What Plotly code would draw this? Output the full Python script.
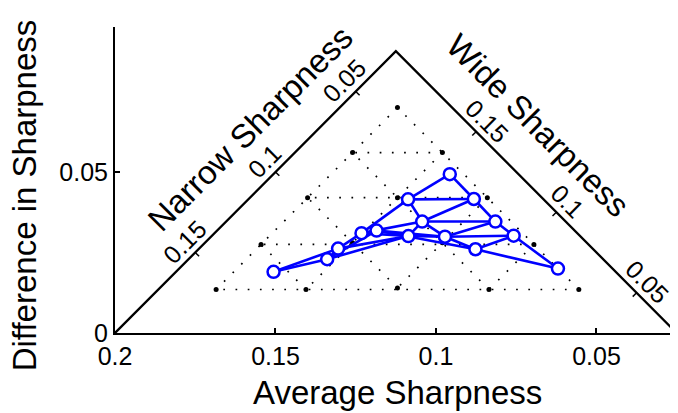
import plotly.graph_objects as go

# sharpness range covered by the triangle (narrow <= wide)
SHARP_MIN, SHARP_MAX = 0.025, 0.2

# stimulus lattice (black dots): narrow / wide sharpness levels
grid_narrow = [0.042, 0.070, 0.098, 0.127, 0.155]
grid_wide = [0.069, 0.097, 0.126, 0.154, 0.182]

# measured points, one per lattice cell (narrow index, wide index)
obs_i = [0, 0, 0, 0, 0, 1, 1, 1, 1, 2, 2, 2, 3, 3, 4]
obs_j = [0, 1, 2, 3, 4, 1, 2, 3, 4, 2, 3, 4, 3, 4, 4]
obs_avg = [0.0620, 0.0758, 0.0815, 0.0882, 0.0957,
           0.0877, 0.0972, 0.1043, 0.1087,
           0.1185, 0.1086, 0.1232,
           0.1339, 0.1305,
           0.1506]
obs_diff = [0.0200, 0.0302, 0.0346, 0.0416, 0.0493,
            0.0260, 0.0299, 0.0346, 0.0415,
            0.0318, 0.0301, 0.0310,
            0.0229, 0.0262,
            0.0190]

x_ticks = [0.2, 0.15, 0.1, 0.05]
y_ticks = [0, 0.05]
narrow_ticks = [0.15, 0.1, 0.05]
wide_ticks = [0.15, 0.1, 0.05]

FONT = "Liberation Sans, Arial, Helvetica, sans-serif"
BLUE = "#0000ff"


def to_xy(n, w):
    """(narrow, wide) -> (average, difference)."""
    return (n + w) / 2, (w - n) / 2


def segs(pairs):
    xs, ys = [], []
    for (x0, y0), (x1, y1) in pairs:
        xs += [x0, x1, None]
        ys += [y0, y1, None]
    return xs, ys


fig = go.Figure()

# dotted lattice
nlev = len(grid_narrow)
lines = []
for k in range(nlev):
    if k < nlev - 1:
        lines.append(((0, k), (nlev - 1 - k, nlev - 1)))      # const difference
        lines.append(((k, k), (k, nlev - 1)))                 # const narrow
    if k > 0:
        lines.append(((0, k), (k, k)))                        # const wide
pairs = [(to_xy(grid_narrow[a[0]], grid_wide[a[1]]),
          to_xy(grid_narrow[b[0]], grid_wide[b[1]])) for a, b in lines]
lx, ly = segs(pairs)
fig.add_trace(go.Scatter(x=lx, y=ly, mode="lines",
                         line=dict(color="black", width=1.7, dash="1.7px,10.5px"),
                         hoverinfo="skip", showlegend=False))

dots = [to_xy(grid_narrow[i], grid_wide[j])
        for i in range(nlev) for j in range(i, nlev)]
fig.add_trace(go.Scatter(x=[d[0] for d in dots], y=[d[1] for d in dots],
                         mode="markers", marker=dict(color="black", size=5),
                         hoverinfo="skip", showlegend=False))

# outer triangle
apex = to_xy(SHARP_MIN, SHARP_MAX)
fig.add_trace(go.Scatter(x=[SHARP_MAX, apex[0], SHARP_MIN],
                         y=[0, apex[1], 0], mode="lines",
                         line=dict(color="black", width=2.3),
                         hoverinfo="skip", showlegend=False))

# ticks on the two slanted axes, pointing inward
tl = 0.0012
tick_pairs = []
for v in narrow_ticks:
    x0, y0 = to_xy(v, SHARP_MAX)
    tick_pairs.append(((x0, y0), (x0 - tl, y0 - tl)))
for v in wide_ticks:
    x0, y0 = to_xy(SHARP_MIN, v)
    tick_pairs.append(((x0, y0), (x0 + tl, y0 - tl)))
tx, ty = segs(tick_pairs)
fig.add_trace(go.Scatter(x=tx, y=ty, mode="lines",
                         line=dict(color="black", width=1.5),
                         hoverinfo="skip", showlegend=False))

# measured mesh
idx = {(i, j): n for n, (i, j) in enumerate(zip(obs_i, obs_j))}
mesh = []
for (i, j), n in idx.items():
    for nb in [(i, j + 1), (i + 1, j), (i + 1, j + 1)]:
        if nb in idx:
            m = idx[nb]
            mesh.append(((obs_avg[n], obs_diff[n]), (obs_avg[m], obs_diff[m])))
mx, my = segs(mesh)
fig.add_trace(go.Scatter(x=mx, y=my, mode="lines",
                         line=dict(color=BLUE, width=2.6),
                         hoverinfo="skip", showlegend=False))
fig.add_trace(go.Scatter(x=obs_avg, y=obs_diff, mode="markers",
                         marker=dict(symbol="circle", size=12, color="white",
                                     line=dict(color=BLUE, width=2.5)),
                         showlegend=False))

# labels of the slanted axes
off = 0.0034
for v in narrow_ticks:
    x0, y0 = to_xy(v, SHARP_MAX)
    fig.add_annotation(x=x0 + off, y=y0 + off, text=f"{v:g}", textangle=-45,
                       showarrow=False, font=dict(size=25))
for v in wide_ticks:
    x0, y0 = to_xy(SHARP_MIN, v)
    fig.add_annotation(x=x0 - off, y=y0 + off, text=f"{v:g}", textangle=45,
                       showarrow=False, font=dict(size=25))

toff = 0.0106
x0, y0 = to_xy(0.0945, SHARP_MAX)
fig.add_annotation(x=x0 + toff, y=y0 + toff, text="Narrow Sharpness",
                   textangle=-45, showarrow=False, font=dict(size=33))
x0, y0 = to_xy(SHARP_MIN, 0.1326)
fig.add_annotation(x=x0 - toff, y=y0 + toff, text="Wide Sharpness",
                   textangle=45, showarrow=False, font=dict(size=33))

# axis titles placed in pixels below / left of the axes
fig.add_annotation(xref="paper", yref="paper", x=0.502, y=0, yshift=-59,
                   text="Average Sharpness", showarrow=False,
                   font=dict(size=33), yanchor="middle")
fig.add_annotation(xref="paper", yref="paper", x=0, xshift=-91, y=0.45,
                   text="Difference in Sharpness", textangle=-90,
                   showarrow=False, font=dict(size=33), xanchor="center")

# the page body adds 8px around the figure, so margins are shifted by that
fig.update_layout(
    width=678, height=413,
    margin=dict(l=107, r=8, t=19, b=88),
    paper_bgcolor="white", plot_bgcolor="white",
    font=dict(family=FONT, color="black"),
    xaxis=dict(range=[SHARP_MAX, SHARP_MIN - 0.0004], showgrid=False,
               zeroline=False, showline=True, linecolor="black", linewidth=2,
               ticks="inside", ticklen=5, tickwidth=1.5, tickcolor="black",
               tickvals=x_ticks, ticktext=[f"{v:g}" for v in x_ticks],
               tickfont=dict(size=25), automargin=False),
    yaxis=dict(range=[0, 0.095], showgrid=False, zeroline=False,
               showline=True, linecolor="black", linewidth=2,
               ticks="inside", ticklen=5, tickwidth=1.5, tickcolor="black",
               tickvals=y_ticks, ticktext=[f"{v:g}" for v in y_ticks],
               tickfont=dict(size=25), automargin=False),
)

fig.write_html("out.html")
